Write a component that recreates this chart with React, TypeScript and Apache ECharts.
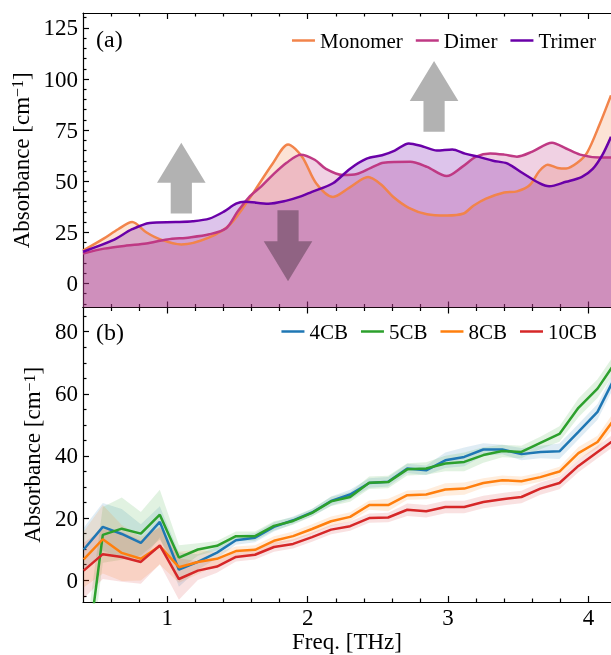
import React, { useEffect, useRef } from 'react';
import * as echarts from 'echarts';

const FONT = 'Liberation Serif';

// ---------- axes ----------
const X_MIN = 0.4;
const X_MAX = 4.16;
const X_MAJOR = [1, 2, 3, 4];
const X_MINOR = [0.6, 0.8, 1.2, 1.4, 1.6, 1.8, 2.2, 2.4, 2.6, 2.8, 3.2, 3.4, 3.6, 3.8];

const TOP_Y_MIN = -11.8;
const TOP_Y_MAX = 132.3;
const TOP_Y_MAJOR = [0, 25, 50, 75, 100, 125];
const TOP_Y_MINOR = [-10, -5, 5, 10, 15, 20, 30, 35, 40, 45, 55, 60, 65, 70, 80, 85, 90, 95, 105, 110, 115, 120, 130];

const BOT_Y_MIN = -7;
const BOT_Y_MAX = 87.8;
const BOT_Y_MAJOR = [0, 20, 40, 60, 80];
const BOT_Y_MINOR = [-5, 5, 10, 15, 25, 30, 35, 45, 50, 55, 65, 70, 75, 85];

// ---------- panel (a) ----------
const MONO_X = [0.40, 0.55, 0.65, 0.75, 0.85, 0.95, 1.10, 1.30, 1.45, 1.59, 1.75, 1.86, 1.96, 2.06, 2.18, 2.30, 2.43, 2.52, 2.61, 2.72, 2.85, 2.99, 3.11, 3.18, 3.27, 3.40, 3.49, 3.58, 3.65, 3.71, 3.78, 3.84, 3.92, 3.99, 4.08, 4.16];
const MONO_Y = [16, 22, 26.5, 30, 25, 21.5, 19, 22.5, 29, 42, 58.5, 68, 62, 49, 42.3, 47, 52, 48.5, 42.3, 37, 33.8, 33.2, 34.2, 38, 41.5, 44.5, 45, 48, 55, 58, 56.5, 56.2, 59, 64, 78, 92];

const DIMER_X = [0.40, 0.55, 0.71, 0.85, 1.00, 1.16, 1.30, 1.42, 1.50, 1.58, 1.67, 1.75, 1.85, 1.95, 2.05, 2.13, 2.25, 2.35, 2.45, 2.54, 2.73, 2.85, 2.99, 3.10, 3.20, 3.30, 3.40, 3.49, 3.60, 3.74, 3.84, 3.94, 4.08, 4.16];
const DIMER_Y = [14.6, 17, 18.5, 19.5, 21.5, 22.5, 24, 27, 35, 42, 47.5, 53, 59, 63, 60.5, 56, 53, 53.5, 56.5, 59, 59.5, 57, 52.5, 57, 62, 63.6, 63, 62, 64.5, 68.8, 66, 63, 61.6, 61.6];

const TRIMER_X = [0.40, 0.61, 0.75, 0.875, 1.06, 1.18, 1.30, 1.40, 1.49, 1.55, 1.72, 1.85, 1.94, 2.03, 2.18, 2.30, 2.42, 2.53, 2.62, 2.72, 2.82, 2.92, 3.03, 3.12, 3.22, 3.32, 3.42, 3.53, 3.65, 3.72, 3.84, 3.95, 4.03, 4.10, 4.16];
const TRIMER_Y = [15.5, 21, 26.5, 29.6, 30, 30.4, 31.7, 35, 39, 40, 39, 40.5, 42.3, 44.8, 49, 56, 61, 62.7, 65, 68.5, 67, 65, 65.5, 63.5, 61.9, 60, 58.7, 54, 49, 47.5, 49.7, 52, 56, 63, 71.7];

// arrows: [x, tail value, tip value]
const ARROWS = [
  [1.10, 34.2, 68.8],
  [2.90, 74.2, 108.8],
  [1.86, 35.8, 1.1],
];

// ---------- panel (b) ----------
const FREQ = [0.405, 0.541, 0.676, 0.812, 0.947, 1.083, 1.218, 1.354, 1.489, 1.625, 1.760, 1.896, 2.031, 2.167, 2.302, 2.438, 2.573, 2.709, 2.844, 2.980, 3.115, 3.251, 3.386, 3.522, 3.657, 3.793, 3.928, 4.064, 4.199];
const CB4 = [9.9, 17.2, 14.9, 12.0, 18.8, 3.4, 5.9, 8.9, 12.9, 13.7, 17.2, 19.3, 21.8, 25.5, 27.6, 31.3, 31.7, 36.0, 35.4, 38.6, 39.7, 42.1, 42.1, 40.6, 41.3, 41.5, 47.8, 54.2, 66.3];
const CB5 = [-33, 14.6, 16.6, 15.0, 21.1, 7.3, 9.9, 11.1, 14.2, 14.2, 17.5, 19.1, 21.7, 25.4, 26.8, 31.4, 31.6, 35.7, 36.0, 37.6, 38.1, 40.3, 41.6, 41.3, 44.2, 47.1, 55.5, 61.7, 70.7];
const CB8 = [6.7, 13.2, 8.8, 6.9, 11.0, 4.2, 5.9, 6.9, 9.4, 9.8, 12.7, 14.2, 16.5, 19.0, 20.4, 24.2, 24.2, 27.4, 27.6, 29.2, 29.5, 31.3, 32.2, 31.9, 33.2, 35.0, 40.9, 44.5, 52.8];
const CB10 = [3.1, 8.4, 7.5, 5.9, 11.2, 0.4, 3.1, 4.4, 7.5, 8.2, 10.7, 11.7, 13.9, 16.3, 17.4, 20.0, 20.2, 22.7, 22.2, 23.6, 23.6, 25.2, 26.1, 26.8, 29.5, 31.3, 36.8, 41.3, 45.7];

const CB4_ERR = [7, 7.7, 8, 6, 5, 5.5, 2.5, 1.8, 1.5, 1.5, 1.5, 1.2, 1.2, 1.5, 1.5, 1.5, 1.5, 1.5, 1.5, 2.5, 3, 2, 1.5, 2, 2, 2.5, 2.5, 2.5, 2.5];
const CB5_ERR = [10, 9, 10, 7, 8, 4, 2, 1.5, 1.5, 1.5, 1.5, 1.2, 1.2, 1.5, 1.5, 2, 2, 2, 2, 2.5, 3, 2.5, 2, 2, 2, 2.5, 3, 3, 3];
const CB8_ERR = [9, 11, 9, 7, 6, 5, 4, 2, 1.5, 1.5, 1.5, 1.5, 1.5, 1.5, 1.5, 1.5, 2, 1.5, 1.5, 2, 2, 1.5, 1.5, 1.5, 1.5, 1.5, 2, 2, 2.5];
const CB10_ERR = [9, 8, 8, 7, 6, 6.7, 3, 2, 1.5, 1.5, 1.5, 1.5, 1.5, 1.5, 1.5, 1.5, 1.5, 2, 2, 2, 2, 2, 2, 2, 2, 2, 2, 2, 2];

const C_MONO = '#f2844b';
const C_DIMER = '#bf3984';
const C_TRIMER = '#6a00a8';
const C_4CB = '#1f77b4';
const C_5CB = '#2ca02c';
const C_8CB = '#ff7f0e';
const C_10CB = '#d62728';

const pairs = (xs: number[], ys: number[]) => xs.map((x, i) => [x, ys[i]]);

const AX_LINE = { color: '#000', width: 1.2 };

function xAxes(gridIndex: number, withLabels: boolean) {
  const base = { type: 'value', gridIndex, min: X_MIN, max: X_MAX, splitLine: { show: false } };
  const major = (position: string, labels: boolean) => ({
    ...base,
    position,
    axisLine: { show: true, onZero: false, lineStyle: AX_LINE },
    axisTick: { show: true, inside: true, length: 6, customValues: X_MAJOR, lineStyle: AX_LINE },
    axisLabel: labels
      ? { show: true, customValues: X_MAJOR, fontFamily: FONT, fontSize: 23, color: '#000', margin: 4 }
      : { show: false },
    name: labels ? 'Freq. [THz]' : '',
    nameLocation: 'middle',
    nameGap: 27,
    nameTextStyle: { fontFamily: FONT, fontSize: 23, color: '#000' },
  });
  const minor = (position: string) => ({
    ...base,
    position,
    axisLine: { show: false, onZero: false },
    axisTick: { show: true, inside: true, length: 3.5, customValues: X_MINOR, lineStyle: AX_LINE },
    axisLabel: { show: false },
  });
  return [major('bottom', withLabels), minor('bottom'), major('top', false), minor('top')];
}

function yAxes(gridIndex: number, min: number, max: number, majorV: number[], minorV: number[], nameGap: number) {
  const base = { type: 'value', gridIndex, min, max, position: 'left', splitLine: { show: false } };
  return [
    {
      ...base,
      axisLine: { show: true, onZero: false, lineStyle: AX_LINE },
      axisTick: { show: true, inside: true, length: 6, customValues: majorV, lineStyle: AX_LINE },
      axisLabel: { show: true, customValues: majorV, fontFamily: FONT, fontSize: 23, color: '#000', margin: 5 },
      name: 'Absorbance [cm{sup|−1}]',
      nameLocation: 'middle',
      nameGap,
      nameTextStyle: {
        fontFamily: FONT,
        fontSize: 23,
        color: '#000',
        rich: { sup: { fontFamily: FONT, fontSize: 16, color: '#000', verticalAlign: 'top' } },
      },
    },
    {
      ...base,
      axisLine: { show: false, onZero: false },
      axisTick: { show: true, inside: true, length: 3.5, customValues: minorV, lineStyle: AX_LINE },
      axisLabel: { show: false },
    },
  ];
}

function topSeries(name: string, xs: number[], ys: number[], color: string) {
  const data = pairs(xs, ys);
  return {
    fill: {
      type: 'line', name: name + ' fill', xAxisIndex: 0, yAxisIndex: 0, data,
      smooth: 0.3, symbol: 'none', silent: true,
      lineStyle: { width: 0, opacity: 0 },
      areaStyle: { origin: 'start', color, opacity: 0.23 },
      z: 2,
    },
    line: {
      type: 'line', name, xAxisIndex: 0, yAxisIndex: 0, data,
      smooth: 0.3, symbol: 'none', color,
      lineStyle: { width: 2.5, color },
      z: 3,
    },
  };
}

function bandSeries(key: string, ys: number[], err: number[], color: string) {
  const data = FREQ.map((x, i) => [x, ys[i] - err[i], ys[i] + err[i]]);
  return {
    type: 'custom', name: key + ' band', xAxisIndex: 4, yAxisIndex: 2,
    data, clip: true, silent: true, z: 2,
    encode: { x: 0, y: [1, 2] },
    renderItem: (params: any, api: any) => {
      if (params.dataIndex !== 0) return null;
      const upper = data.map((d) => api.coord([d[0], d[2]]));
      const lower = data.map((d) => api.coord([d[0], d[1]])).reverse();
      return {
        type: 'polygon',
        shape: { points: [...upper, ...lower] },
        style: { fill: color, opacity: 0.14 },
      };
    },
  };
}

function lineSeries(name: string, ys: number[], color: string) {
  return {
    type: 'line', name, xAxisIndex: 4, yAxisIndex: 2, data: pairs(FREQ, ys),
    symbol: 'none', color, lineStyle: { width: 2.5, color }, z: 3,
  };
}

export default function App() {
  const ref = useRef<HTMLDivElement>(null);

  useEffect(() => {
    document.body.style.margin = '0';
    const chart = echarts.init(ref.current as HTMLDivElement, undefined, { renderer: 'svg' });

    const mono = topSeries('Monomer', MONO_X, MONO_Y, C_MONO);
    const dimer = topSeries('Dimer', DIMER_X, DIMER_Y, C_DIMER);
    const trimer = topSeries('Trimer', TRIMER_X, TRIMER_Y, C_TRIMER);

    const legendText = { fontFamily: FONT, fontSize: 21, color: '#000' };

    const option: any = {
      animation: false,
      grid: [
        { left: 83, right: 0, top: 13, height: 294.5 },
        { left: 83, right: 0, top: 307.5, height: 294.5 },
      ],
      xAxis: [...xAxes(0, false), ...xAxes(1, true)],
      yAxis: [
        ...yAxes(0, TOP_Y_MIN, TOP_Y_MAX, TOP_Y_MAJOR, TOP_Y_MINOR, 45),
        ...yAxes(1, BOT_Y_MIN, BOT_Y_MAX, BOT_Y_MAJOR, BOT_Y_MINOR, 35),
      ],
      legend: [
        {
          data: ['Monomer', 'Dimer', 'Trimer'], right: 15, top: 30, orient: 'horizontal',
          icon: 'rect', itemWidth: 23, itemHeight: 2.5, itemGap: 13, padding: 0,
          textStyle: legendText, selectedMode: false,
        },
        {
          data: ['4CB', '5CB', '8CB', '10CB'], right: 14, top: 321, orient: 'horizontal',
          icon: 'rect', itemWidth: 23, itemHeight: 2.5, itemGap: 13, padding: 0,
          textStyle: legendText, selectedMode: false,
        },
      ],
      series: [
        mono.fill, dimer.fill, trimer.fill,
        mono.line, dimer.line, trimer.line,
        bandSeries('b4', CB4, CB4_ERR, C_4CB),
        bandSeries('b5', CB5, CB5_ERR, C_5CB),
        bandSeries('b8', CB8, CB8_ERR, C_8CB),
        bandSeries('b10', CB10, CB10_ERR, C_10CB),
        lineSeries('4CB', CB4, C_4CB),
        lineSeries('5CB', CB5, C_5CB),
        lineSeries('8CB', CB8, C_8CB),
        lineSeries('10CB', CB10, C_10CB),
      ],
    };
    chart.setOption(option);

    const HEAD_LEN = 40;
    const HEAD_HALF = 24.3;
    const SHAFT_HALF = 10.6;
    const arrowEls = ARROWS.map(([x, tail, tip], k) => {
      const pTail = chart.convertToPixel({ gridIndex: 0 }, [x, tail]) as number[];
      const pTip = chart.convertToPixel({ gridIndex: 0 }, [x, tip]) as number[];
      const cx = pTip[0];
      const dir = pTail[1] > pTip[1] ? 1 : -1;
      const hb = pTip[1] + dir * HEAD_LEN;
      return {
        type: 'polygon', id: 'arrow' + k, z: 100, silent: true,
        shape: {
          points: [
            [cx, pTip[1]], [cx + HEAD_HALF, hb], [cx + SHAFT_HALF, hb], [cx + SHAFT_HALF, pTail[1]],
            [cx - SHAFT_HALF, pTail[1]], [cx - SHAFT_HALF, hb], [cx - HEAD_HALF, hb],
          ],
        },
        style: { fill: 'rgba(0,0,0,0.3)' },
      };
    });

    chart.setOption({
      graphic: [
        ...arrowEls,
        { type: 'text', id: 'la', left: 96, top: 27, z: 100, style: { text: '(a)', fontFamily: FONT, fontSize: 24, fill: '#000' } },
        { type: 'text', id: 'lb', left: 96, top: 320, z: 100, style: { text: '(b)', fontFamily: FONT, fontSize: 24, fill: '#000' } },
      ],
    });

    return () => chart.dispose();
  }, []);

  return <div ref={ref} style={{ position: 'fixed', left: 0, top: 0, width: 611, height: 655 }} />;
}
